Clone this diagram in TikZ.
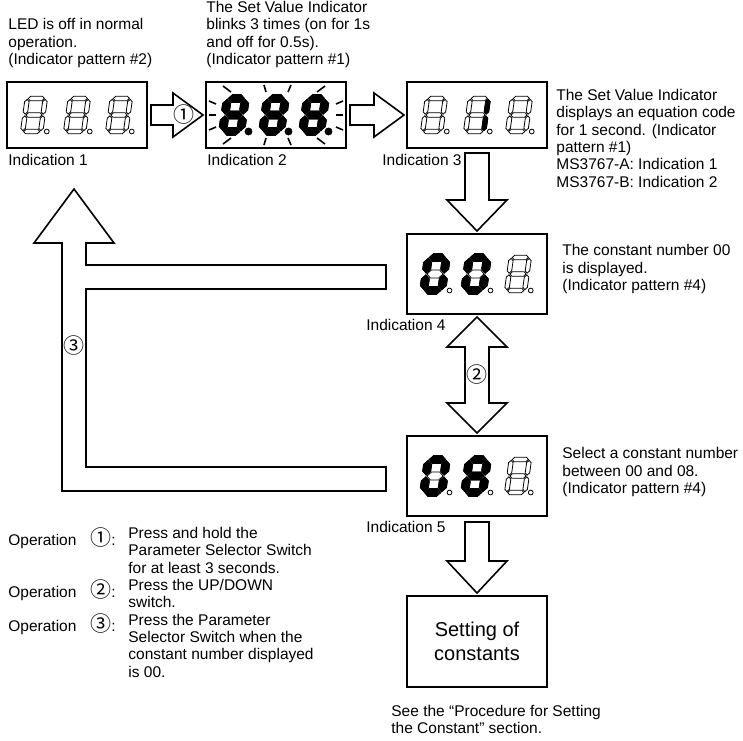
\documentclass[tikz,border=0pt]{standalone}
\usepackage{fontspec}
\setmainfont{Liberation Sans}
\newfontfamily\cjkfont{Noto Sans CJK JP}
\usetikzlibrary{calc,positioning}

\newcommand\cnum[1]{{\cjkfont\fontsize{10.5pt}{8.65pt}\selectfont #1}}

\tikzset{
  dispbox/.style={draw, line width=1pt, minimum width=70pt, minimum height=33pt, inner sep=0pt},
  blockarrow/.style={draw, line width=0.8pt, fill=white, line join=miter},
  segoff/.style={draw, line width=0.4pt, fill=white},
  segon/.style={fill=black},
  segfill/.style={draw, line width=0.4pt, fill=black},
  dp/.style={draw, line width=0.4pt, fill=white, radius=2.4},
  dpon/.style={fill=black, radius=3.5},
  ray/.style={line width=0.8pt},
  txt/.style={anchor=north west, align=left, inner sep=0pt, font=\fontsize{7.75pt}{8.65pt}\selectfont},
  lbl/.style={anchor=west, inner sep=0pt, font=\fontsize{7.75pt}{8.65pt}\selectfont},
  circmark/.style={inner sep=0pt},
}

% seven segment pieces, digit centre at the origin
\def\sw{18}
\def\sh{33}
\def\st{4.5}
\def\sg{0.9}
\def\hseg#1#2{\draw[#1] ({-\sw/2+\sg},#2) -- ({-\sw/2+\sg+\st/2},{#2+\st/2}) -- ({\sw/2-\sg-\st/2},{#2+\st/2}) -- ({\sw/2-\sg},#2) -- ({\sw/2-\sg-\st/2},{#2-\st/2}) -- ({-\sw/2+\sg+\st/2},{#2-\st/2}) -- cycle;}
\def\vseg#1#2#3#4{\draw[#1] (#2,{#3+\sg}) -- ({#2+\st/2},{#3+\sg+\st/2}) -- ({#2+\st/2},{#4-\sg-\st/2}) -- (#2,{#4-\sg}) -- ({#2-\st/2},{#4-\sg-\st/2}) -- ({#2-\st/2},{#3+\sg+\st/2}) -- cycle;}
\def\sega#1{\hseg{#1}{\sh/2}}
\def\segb#1{\vseg{#1}{\sw/2}{0}{\sh/2}}
\def\segc#1{\vseg{#1}{\sw/2}{-\sh/2}{0}}
\def\segd#1{\hseg{#1}{-\sh/2}}
\def\sege#1{\vseg{#1}{-\sw/2}{-\sh/2}{0}}
\def\segf#1{\vseg{#1}{-\sw/2}{0}{\sh/2}}
\def\segg#1{\hseg{#1}{0}}
\def\segnone#1{}

% digit: centre, lit segments, lit style, segment width, point style
\newcommand\segdigit[5]{%
  \begin{scope}[shift={(#1)}]
    \def\st{#4}
    \begin{scope}[xslant=0.14, yscale=-1]
      \foreach \s in {a,b,c,d,e,f,g} {\csname seg\s\endcsname{segoff}}
      \foreach \s in {#2} {\csname seg\s\endcsname{#3}}
    \end{scope}
    \draw[#5] ({\sw/2+\st/2+1.5},{\sh/2}) circle;
  \end{scope}}

% block arrows: (from)(to){head length}, named points only
\def\rightblock(#1)(#2)#3{\draw[blockarrow] ($(#1)+(3,-10)$) -- ($(#2)+(-2-#3,-10)$) -- ($(#2)+(-2-#3,-22)$) -- ($(#2)+(-2,0)$) -- ($(#2)+(-2-#3,22)$) -- ($(#2)+(-2-#3,10)$) -- ($(#1)+(3,10)$) -- cycle;}
\def\downblock(#1)(#2)#3{\draw[blockarrow] ($(#1)+(-12,0)$) -- ($(#2)+(-12,-#3)$) -- ($(#2)+(-30,-#3)$) -- (#2) -- ($(#2)+(30,-#3)$) -- ($(#2)+(12,-#3)$) -- ($(#1)+(12,0)$) -- cycle;}
\def\twoblock(#1)(#2)#3{\draw[blockarrow] (#1) -- ($(#1)+(30,#3)$) -- ($(#1)+(12,#3)$) -- ($(#2)+(12,-#3)$) -- ($(#2)+(30,-#3)$) -- (#2) -- ($(#2)+(-30,-#3)$) -- ($(#2)+(-12,-#3)$) -- ($(#1)+(-12,#3)$) -- ($(#1)+(-30,#3)$) -- cycle;}

\begin{document}
\begin{tikzpicture}[x=0.5pt, y=-0.5pt]
\useasboundingbox (0,0) rectangle (743,740);

% display boxes
\node[dispbox] (ind1) at (77,115) {};
\node[dispbox, right=28.5pt of ind1] (ind2) {};
\node[dispbox, right=29.5pt of ind2] (ind3) {};
\node[dispbox, minimum height=40pt, below=42pt of ind3] (ind4) {};
\node[dispbox, minimum height=40pt, below=60pt of ind4] (ind5) {};
\node[dispbox, minimum height=45.5pt, below=39pt of ind5, align=center, font=\fontsize{10pt}{11.8pt}\selectfont] (ind6) {Setting of\\constants};

% digits
\foreach \dx in {-43,0,42} {\segdigit{$(ind1)+(\dx,0)$}{none}{segon}{4.5}{dp}}
\foreach \dx in {-42,-2,38} {\segdigit{$(ind2)+(\dx,0)$}{a,b,c,d,e,f,g}{segon}{8}{dpon}}
\segdigit{$(ind3)+(-43,0)$}{none}{segon}{4.5}{dp}
\segdigit{$(ind3)+(0,0)$}{b,c}{segfill}{4.5}{dp}
\segdigit{$(ind3)+(42,0)$}{none}{segon}{4.5}{dp}
\foreach \dx in {-42,-1} {\segdigit{$(ind4)+(\dx,0)$}{a,b,c,d,e,f}{segon}{8}{dp}}
\segdigit{$(ind4)+(41,0)$}{none}{segon}{4.5}{dp}
\segdigit{$(ind5)+(-42,0)$}{a,b,c,d,e,f}{segon}{8}{dp}
\segdigit{$(ind5)+(-1,0)$}{a,b,c,d,e,f,g}{segon}{8}{dp}
\segdigit{$(ind5)+(41,0)$}{none}{segon}{4.5}{dp}

% blinking rays
\foreach \ax/\ay/\bx/\by in {-53/-29/-45/-23, -12/-30/-10/-23, 15/-30/12/-23, 49/-29/41/-23,
    -53/29/-45/23, -12/30/-10/23, 15/30/12/23, 49/29/41/23,
    -67/-14/-60/-11, -67/0/-60/0, -67/15/-60/12, 67/-14/60/-11, 67/0/60/0, 67/15/60/12}
  \draw[ray] ($(ind2)+(\ax,\ay)$) -- ($(ind2)+(\bx,\by)$);

% forward arrows
\coordinate (d1s) at ($(ind3.south)+(0,4)$);
\coordinate (d1t) at ($(ind4.north)+(0,-2)$);
\coordinate (d2s) at ($(ind4.south)+(0,2)$);
\coordinate (d2t) at ($(ind5.north)+(0,-2)$);
\coordinate (d3s) at ($(ind5.south)+(0,5)$);
\coordinate (d3t) at ($(ind6.north)+(0,-2)$);
\rightblock(ind1.east)(ind2.west){30}
\rightblock(ind2.east)(ind3.west){30}
\node[circmark] (op1mark) at ($(ind2.west)+(-21,0)$) {\cnum{①}};
\downblock(d1s)(d1t){31}
\twoblock(d2s)(d2t){30}
\node[circmark] (op2mark) at ($(d2s)!0.5!(d2t)$) {\cnum{②}};
\downblock(d3s)(d3t){32}

% return arrow back to indication 1
\coordinate (rtip) at ($(ind1.south)+(-3,40)$);
\coordinate (hb) at ($(rtip)+(0,54)$);
\coordinate (rs) at ($(rtip)+(12,0)$);
\coordinate (ls) at ($(rtip)+(-12,0)$);
\coordinate (u1) at ($(ind4.west)+(-20,-9)$);
\coordinate (u2) at ($(ind4.west)+(-20,15)$);
\coordinate (l1) at ($(ind5.west)+(-20,-9)$);
\coordinate (l2) at ($(ind5.west)+(-20,15)$);
\draw[blockarrow] (rtip) -- ($(hb)+(40,0)$) -- (rs |- hb) |- (u1) -- (u2) -- (rs |- u2) |- (l1) -- (l2) -- (ls |- l2) -- (ls |- hb) -- ($(hb)+(-40,0)$) -- cycle;
\node[circmark] (op3mark) at ($(rtip)+(0,157)$) {\cnum{③}};

% labels under the boxes
\node[lbl] (lab1) at ($(ind1.south west)+(2,11)$) {Indication 1};
\node[lbl] (lab2) at ($(ind2.south west)+(2,11)$) {Indication 2};
\node[lbl, anchor=east] (lab3) at ($(d1s)+(-15,7)$) {Indication 3};
\node[lbl, anchor=east] (lab4) at ($(ind4.south west)+(40,10)$) {Indication 4};
\node[lbl, anchor=east] (lab5) at ($(ind5.south west)+(40,10)$) {Indication 5};

% notes
\node[txt, anchor=south west] (note1) at ($(ind1.north west)+(2,-13)$) {LED is off in normal\\operation.\\(Indicator pattern \#2)};
\node[txt, anchor=south west] (note2) at ($(ind2.north west)+(1,-13)$) {The Set Value Indicator\\blinks 3 times (on for 1s\\and off for 0.5s).\\(Indicator pattern \#1)};
\node[txt] (note3) at ($(ind3.north east)+(8,8)$) {The Set Value Indicator\\displays an equation code\\for 1 second. (Indicator\\pattern \#1)\\MS3767-A: Indication 1\\MS3767-B: Indication 2};
\node[txt, anchor=west] (note4) at ($(ind4.east)+(14,-5)$) {The constant number 00\\is displayed.\\(Indicator pattern \#4)};
\node[txt, anchor=west] (note5) at ($(ind5.east)+(14,-4)$) {Select a constant number\\between 00 and 08.\\(Indicator pattern \#4)};
\node[txt] (note6) at ($(ind6.south west)+(-15,17)$) {See the “Procedure for Setting\\the Constant” section.};

% operations
\node[txt] (op1) at (8,527) {Operation\hspace{7pt}\cnum{①}:};
\node[txt] (op1text) at (128,527) {Press and hold the\\Parameter Selector Switch\\for at least 3 seconds.};
\node[txt] (op2) at (8,578.9) {Operation\hspace{7pt}\cnum{②}:};
\node[txt] (op2text) at (128,578.9) {Press the UP/DOWN\\switch.};
\node[txt] (op3) at (8,613.5) {Operation\hspace{7pt}\cnum{③}:};
\node[txt] (op3text) at (128,613.5) {Press the Parameter\\Selector Switch when the\\constant number displayed\\is 00.};
\end{tikzpicture}
\end{document}
